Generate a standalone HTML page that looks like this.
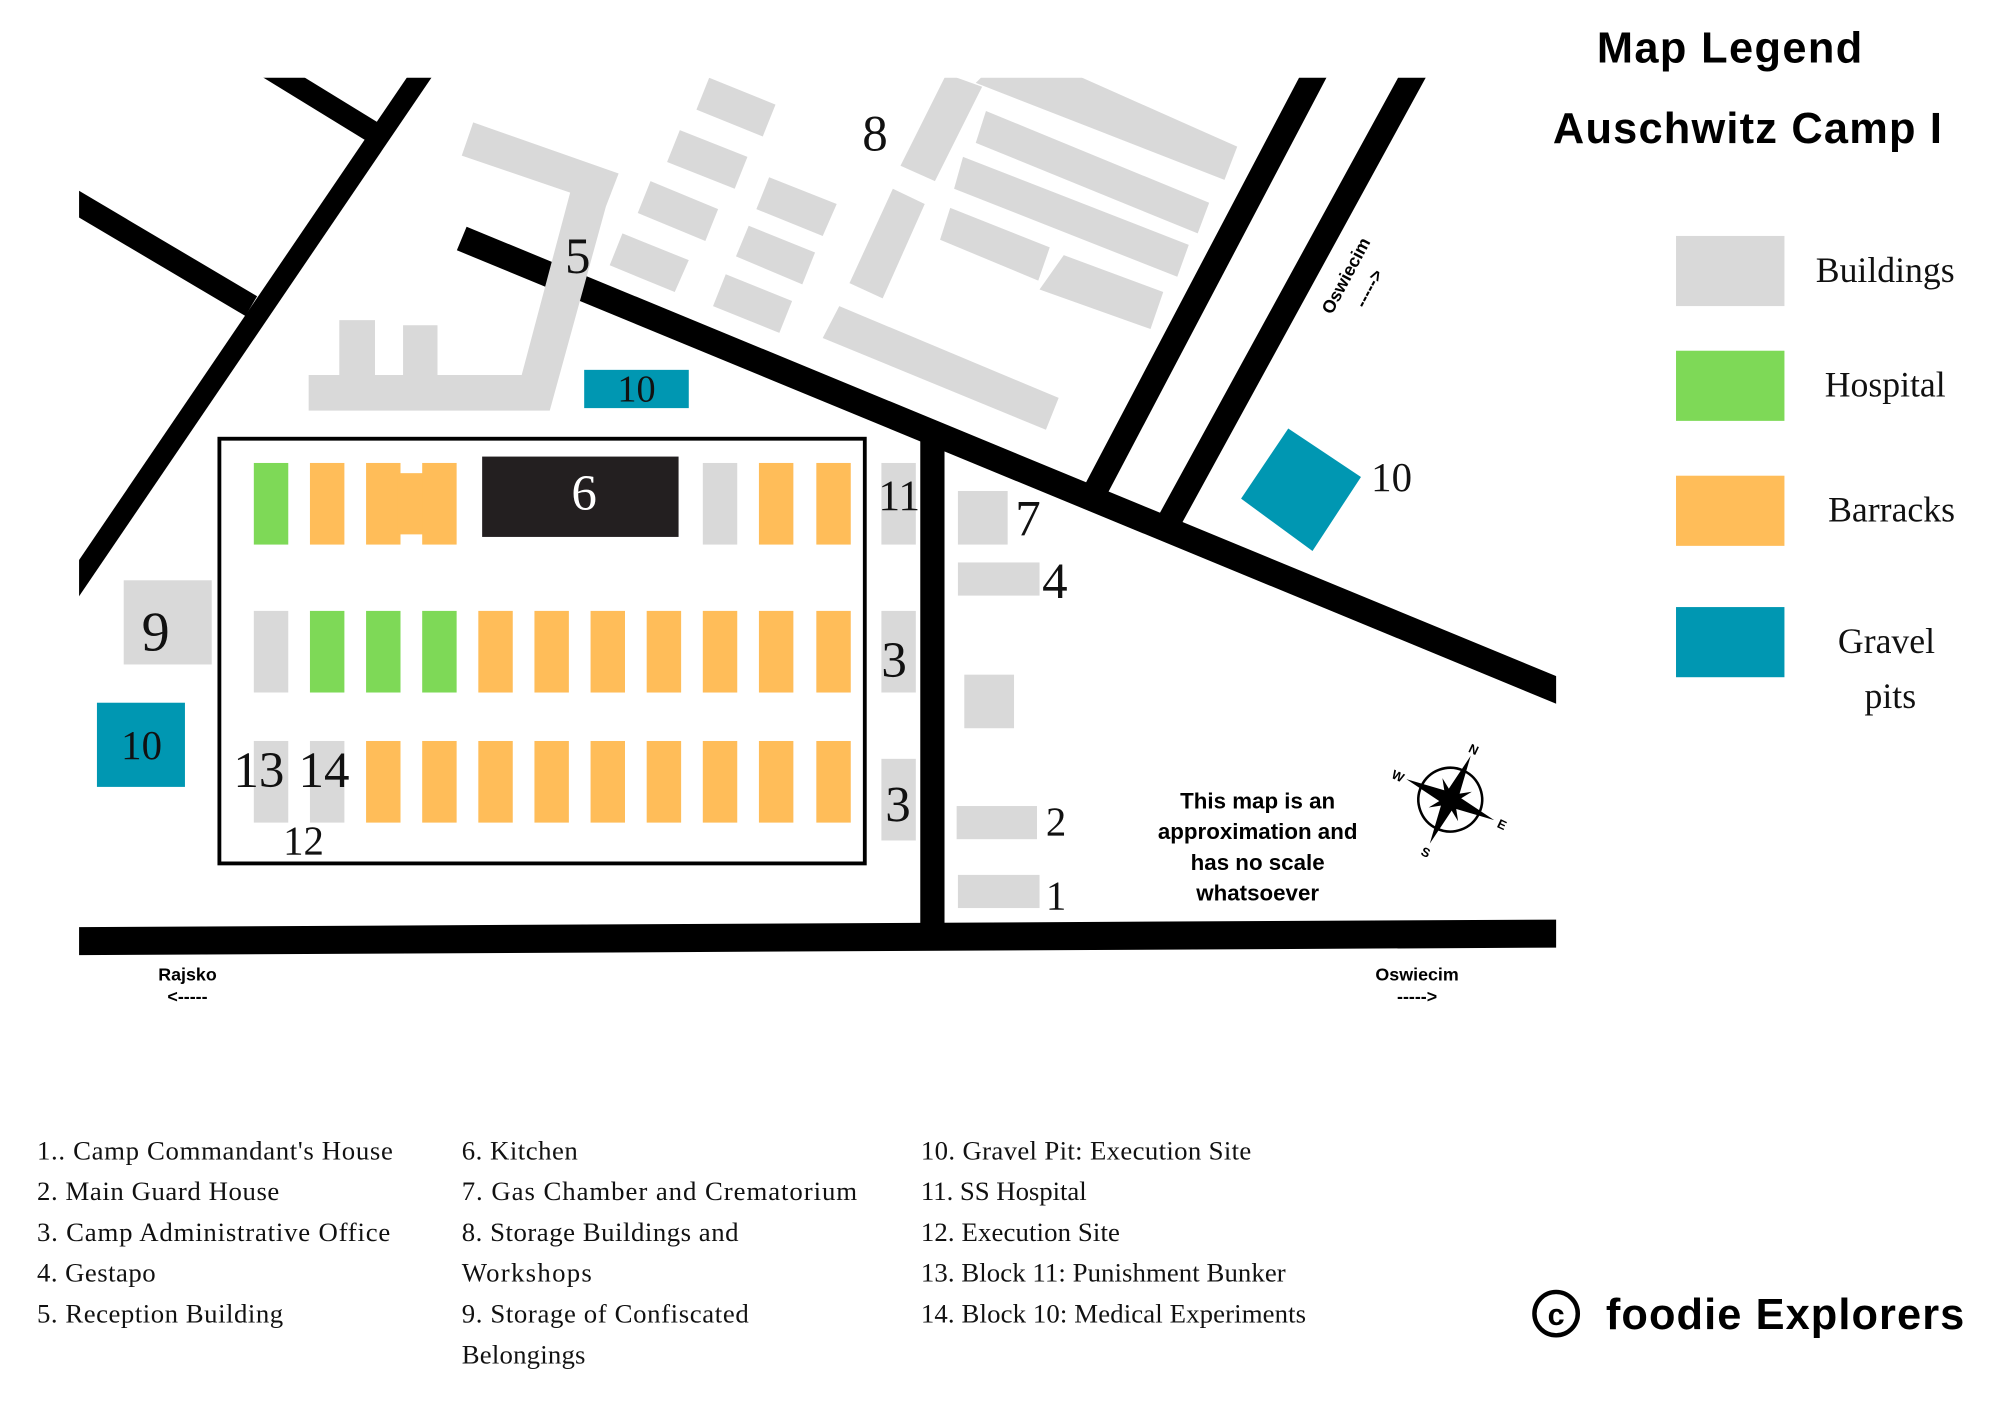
<!DOCTYPE html>
<html><head><meta charset="utf-8"><style>
html,body{margin:0;padding:0;background:#fff;}
svg{display:block;}
.n{font-family:"Liberation Serif",serif;fill:#111;}
.b{font-family:"Liberation Sans",sans-serif;font-weight:bold;fill:#000;}
</style></head><body>
<svg width="2000" height="1408" viewBox="0 0 1568 1104" preserveAspectRatio="none" xmlns="http://www.w3.org/2000/svg">
<defs><clipPath id="map"><rect x="62" y="61" width="1158" height="700"/></clipPath></defs>
<rect width="1568" height="1104" fill="#fff"/>
<g clip-path="url(#map)">
<g stroke="#000" stroke-linecap="butt" fill="none">
<line x1="336" y1="50" x2="52" y2="468" stroke-width="16"/>
<line x1="205" y1="50" x2="293" y2="104" stroke-width="17"/>
<line x1="50" y1="153" x2="197" y2="240" stroke-width="18"/>
<line x1="362" y1="187" x2="1225" y2="543" stroke-width="20"/>
<line x1="731" y1="345" x2="731" y2="735" stroke-width="19"/>
<line x1="1036" y1="48" x2="856" y2="390" stroke-width="19"/>
<line x1="1114" y1="48" x2="917" y2="408" stroke-width="19"/>
</g>
<polygon points="50,727 1225,721 1225,743 50,749" fill="#000"/>
<g fill="#d9d9d9">
<polygon points="371,96 485,136 475,162 431,322 242,322 242,294 266,294 266,251 294,251 294,294 316,294 316,255 343,255 343,294 409,294 447,151 362,122"/>
<polygon points="556,61 608,82 598,107 546,86"/>
<polygon points="533,102 586,123 576,148 523,127"/>
<polygon points="510,142 563,164 553,189 500,167"/>
<polygon points="488,183 540,204 529,229 478,208"/>
<polygon points="603,139 656,160 645,185 593,164"/>
<polygon points="587,177 639,198 629,223 577,201"/>
<polygon points="569,215 621,236 611,261 559,240"/>
<polygon points="658,240 830,312 820,337 645,265"/>
<polygon points="742,58 770,68 733,142 706,130"/>
<polygon points="700,148 725,160 692,234 666,222"/>
<polygon points="775,55 835,55 970,115 960,141 765,65"/>
<polygon points="773,87 948,159 939,183 765,112"/>
<polygon points="755,123 932,192 923,217 748,148"/>
<polygon points="745,163 823,194 814,220 737,188"/>
<polygon points="834,200 912,229 902,258 815,227"/>
<rect x="97" y="455" width="69" height="66"/>
<rect x="691" y="363" width="27" height="64"/>
<rect x="691" y="479" width="27" height="64"/>
<rect x="691" y="595" width="27" height="64"/>
<rect x="751" y="385" width="39" height="42"/>
<rect x="751" y="441" width="64" height="26"/>
<rect x="756" y="529" width="39" height="42"/>
<rect x="750" y="632" width="63" height="26"/>
<rect x="751" y="686" width="64" height="26"/>
</g>
<rect x="458" y="290" width="82" height="30" fill="#0097b2"/>
<rect x="76" y="551" width="69" height="66" fill="#0097b2"/>
<polygon points="1010,336 1067,374 1029,432 973,391" fill="#0097b2"/>
<rect x="172" y="344" width="506" height="333" fill="none" stroke="#000" stroke-width="3"/>
<g>
<rect x="199" y="363" width="27" height="64" fill="#7ed957"/>
<rect x="243" y="363" width="27" height="64" fill="#ffbd59"/>
<rect x="287" y="363" width="27" height="64" fill="#ffbd59"/>
<rect x="312" y="371" width="21" height="48" fill="#ffbd59"/>
<rect x="331" y="363" width="27" height="64" fill="#ffbd59"/>
<rect x="378" y="358" width="154" height="63" fill="#231f20"/>
<rect x="551" y="363" width="27" height="64" fill="#d9d9d9"/>
<rect x="595" y="363" width="27" height="64" fill="#ffbd59"/>
<rect x="640" y="363" width="27" height="64" fill="#ffbd59"/>
<rect x="199" y="479" width="27" height="64" fill="#d9d9d9"/>
<rect x="243" y="479" width="27" height="64" fill="#7ed957"/>
<rect x="287" y="479" width="27" height="64" fill="#7ed957"/>
<rect x="331" y="479" width="27" height="64" fill="#7ed957"/>
<rect x="375" y="479" width="27" height="64" fill="#ffbd59"/>
<rect x="419" y="479" width="27" height="64" fill="#ffbd59"/>
<rect x="463" y="479" width="27" height="64" fill="#ffbd59"/>
<rect x="507" y="479" width="27" height="64" fill="#ffbd59"/>
<rect x="551" y="479" width="27" height="64" fill="#ffbd59"/>
<rect x="595" y="479" width="27" height="64" fill="#ffbd59"/>
<rect x="640" y="479" width="27" height="64" fill="#ffbd59"/>
<rect x="199" y="581" width="27" height="64" fill="#d9d9d9"/>
<rect x="243" y="581" width="27" height="64" fill="#d9d9d9"/>
<rect x="287" y="581" width="27" height="64" fill="#ffbd59"/>
<rect x="331" y="581" width="27" height="64" fill="#ffbd59"/>
<rect x="375" y="581" width="27" height="64" fill="#ffbd59"/>
<rect x="419" y="581" width="27" height="64" fill="#ffbd59"/>
<rect x="463" y="581" width="27" height="64" fill="#ffbd59"/>
<rect x="507" y="581" width="27" height="64" fill="#ffbd59"/>
<rect x="551" y="581" width="27" height="64" fill="#ffbd59"/>
<rect x="595" y="581" width="27" height="64" fill="#ffbd59"/>
<rect x="640" y="581" width="27" height="64" fill="#ffbd59"/>
</g>
</g>
<g class="n" font-size="40" text-anchor="middle">
<text x="686" y="118">8</text>
<text x="453" y="214">5</text>
<text x="458" y="400" style="fill:#fff">6</text>
<text x="499" y="315" font-size="30">10</text>
<text x="705" y="400" font-size="34">11</text>
<text x="806" y="420">7</text>
<text x="827" y="469">4</text>
<text x="701" y="531">3</text>
<text x="704" y="644">3</text>
<text x="828" y="655" font-size="32">2</text>
<text x="828" y="713" font-size="32">1</text>
<text x="122" y="510" font-size="44">9</text>
<text x="111" y="595" font-size="32">10</text>
<text x="203" y="617">13</text>
<text x="254" y="617">14</text>
<text x="238" y="670" font-size="32">12</text>
<text x="1091" y="385" font-size="32">10</text>
</g>
<g class="b" font-size="14" text-anchor="middle">
<text x="147" y="769">Rajsko</text>
<text x="147" y="786">&lt;-----</text>
<text x="1111" y="769">Oswiecim</text>
<text x="1111" y="786">-----&gt;</text>
<text transform="translate(1055,216) rotate(-62)" x="0" y="5">Oswiecim</text>
<text transform="translate(1073,226) rotate(-62)" x="0" y="5">-----&gt;</text>
</g>
<g class="b" font-size="17.5" text-anchor="middle">
<text x="986" y="634">This map is an</text>
<text x="986" y="658">approximation and</text>
<text x="986" y="682">has no scale</text>
<text x="986" y="706">whatsoever</text>
</g>
<g transform="translate(1137,627) rotate(25)">
<circle r="25" fill="none" stroke="#000" stroke-width="2"/>
<polygon points="0,-38 5,-5 38,0 5,5 0,38 -5,5 -38,0 -5,-5" fill="#000"/>
<polygon points="0,-18 3,-3 18,0 3,3 0,18 -3,3 -18,0 -3,-3" fill="#000" transform="rotate(45)"/>
<text class="b" font-size="10" x="0" y="-40" text-anchor="middle">N</text>
<text class="b" font-size="10" x="0" y="49" text-anchor="middle">S</text>
<text class="b" font-size="10" x="45" y="4" text-anchor="middle">E</text>
<text class="b" font-size="10" x="-45" y="4" text-anchor="middle">W</text>
</g>
<text class="b" x="1356" y="49" font-size="34" text-anchor="middle" textLength="208">Map Legend</text>
<text class="b" x="1370" y="112" font-size="34" text-anchor="middle" textLength="305">Auschwitz Camp I</text>
<rect x="1314" y="185" width="85" height="55" fill="#d9d9d9"/>
<rect x="1314" y="275" width="85" height="55" fill="#7ed957"/>
<rect x="1314" y="373" width="85" height="55" fill="#ffbd59"/>
<rect x="1314" y="476" width="85" height="55" fill="#0097b2"/>
<g class="n" font-size="28" text-anchor="middle">
<text x="1478" y="221">Buildings</text>
<text x="1478" y="311">Hospital</text>
<text x="1483" y="409">Barracks</text>
<text x="1479" y="512">Gravel</text>
<text x="1482" y="555">pits</text>
</g>
<g class="n" font-size="21">
<text x="29" y="909" textLength="279">1.. Camp Commandant's House</text>
<text x="29" y="941" textLength="190">2. Main Guard House</text>
<text x="29" y="973" textLength="277">3. Camp Administrative Office</text>
<text x="29" y="1005" textLength="93">4. Gestapo</text>
<text x="29" y="1037" textLength="193">5. Reception Building</text>
<text x="362" y="909" textLength="91">6. Kitchen</text>
<text x="362" y="941" textLength="310">7. Gas Chamber and Crematorium</text>
<text x="362" y="973" textLength="217">8. Storage Buildings and</text>
<text x="362" y="1005" textLength="102">Workshops</text>
<text x="362" y="1037" textLength="225">9. Storage of Confiscated</text>
<text x="362" y="1069" textLength="97">Belongings</text>
<text x="722" y="909" textLength="259">10. Gravel Pit: Execution Site</text>
<text x="722" y="941" textLength="130">11. SS Hospital</text>
<text x="722" y="973" textLength="156">12. Execution Site</text>
<text x="722" y="1005" textLength="286">13. Block 11: Punishment Bunker</text>
<text x="722" y="1037" textLength="302">14. Block 10: Medical Experiments</text>
</g>
<circle cx="1220" cy="1030" r="17" fill="none" stroke="#000" stroke-width="3.5"/>
<text class="b" x="1220" y="1039" font-size="24" text-anchor="middle">c</text>
<text class="b" x="1259" y="1042" font-size="34" textLength="281">foodie Explorers</text>
</svg>
</body></html>
